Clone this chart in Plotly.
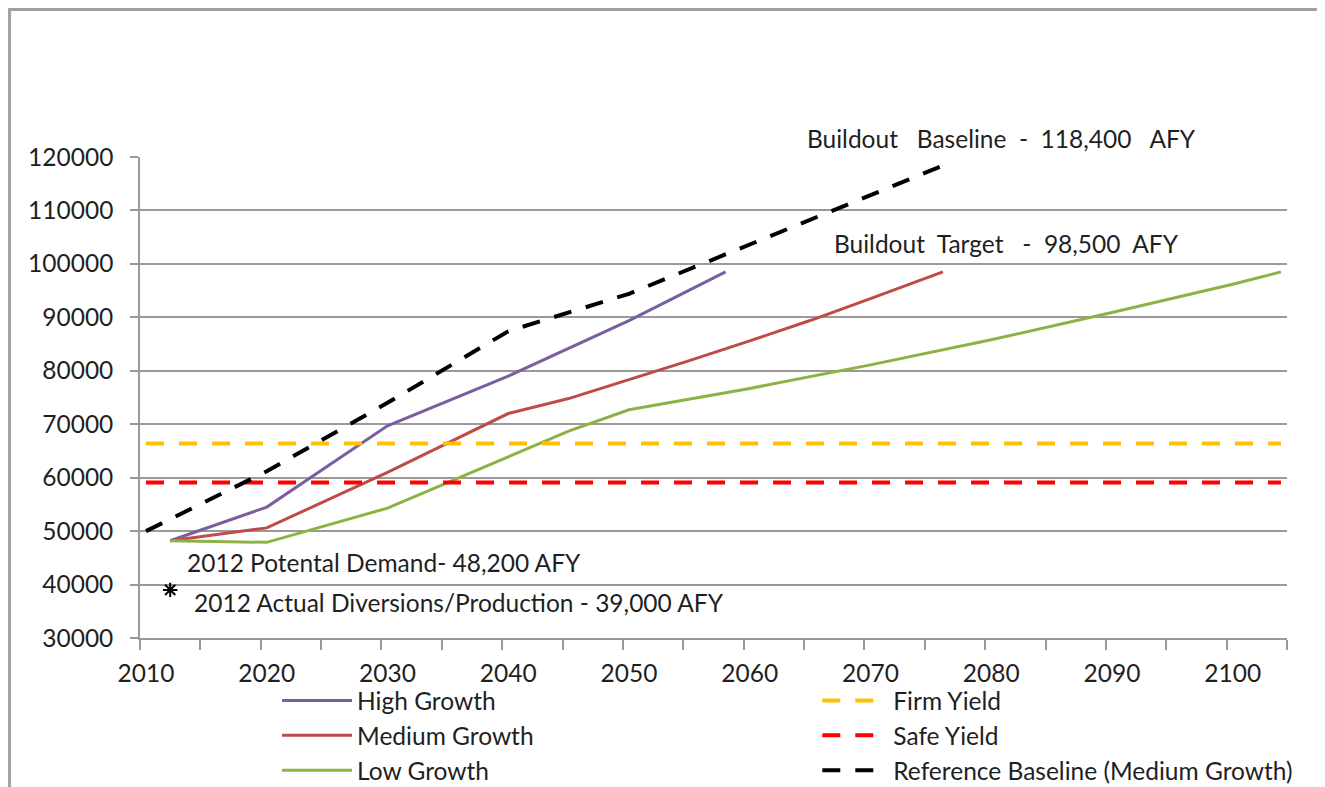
import plotly.graph_objects as go

# ---- data ----
high_years = [2012, 2020, 2030, 2040, 2050, 2058]
high_vals = [48200, 54500, 69700, 79000, 89400, 98500]

med_years = [2012, 2020, 2030, 2040, 2045, 2050, 2055, 2060, 2065, 2070, 2076]
med_vals = [48200, 50600, 61000, 72000, 74800, 78300, 81900, 85600, 89400, 93500, 98500]

low_years = [2012, 2020, 2030, 2040, 2045, 2050, 2060, 2070, 2080, 2090, 2100, 2104]
low_vals = [48200, 47900, 54300, 63800, 68700, 72700, 76700, 81100, 85800, 90900, 96200, 98500]

ref_years = [2010, 2020, 2030, 2040, 2050, 2060, 2070, 2076]
ref_vals = [50000, 61200, 74000, 87400, 94400, 103600, 112800, 118400]

yield_years = [2010, 2104]
firm_yield = [66400, 66400]
safe_yield = [59100, 59100]

actual_year = [2012]
actual_val = [39000]

x_tick_vals = list(range(2010, 2101, 10))
x_tick_text = [str(v) for v in x_tick_vals]

FONT = "Lato"
TXT = "#1f1f1f"
GRID = "#9a9a9a"
DASH = "18px,15px"
FS = 24.5
NB = "\u00a0"

fig = go.Figure()

fig.add_trace(go.Scatter(x=high_years, y=high_vals, mode="lines", name="High Growth",
                         line=dict(color="#7A5FA0", width=3), legend="legend"))
fig.add_trace(go.Scatter(x=med_years, y=med_vals, mode="lines", name="Medium Growth",
                         line=dict(color="#BE4B48", width=3), legend="legend"))
fig.add_trace(go.Scatter(x=low_years, y=low_vals, mode="lines", name="Low Growth",
                         line=dict(color="#8DB244", width=3), legend="legend"))
fig.add_trace(go.Scatter(x=yield_years, y=firm_yield, mode="lines", name="Firm Yield",
                         line=dict(color="#FFC000", width=4, dash=DASH), legend="legend2"))
fig.add_trace(go.Scatter(x=yield_years, y=safe_yield, mode="lines", name="Safe Yield",
                         line=dict(color="#FF0000", width=4, dash=DASH), legend="legend2"))
fig.add_trace(go.Scatter(x=ref_years, y=ref_vals, mode="lines", name="Reference Baseline (Medium Growth)",
                         line=dict(color="#000000", width=4, dash=DASH), legend="legend2"))
fig.add_trace(go.Scatter(x=actual_year, y=actual_val, mode="markers", showlegend=False,
                         marker=dict(symbol="asterisk-open", size=12, color="#000000",
                                     line=dict(color="#000000", width=2))))

annotations = [
    dict(x=0.5795, y=1.0395,
         text="Buildout" + NB * 2 + " Baseline" + NB + " -" + NB + " 118,400" + NB * 2 + " AFY"),
    dict(x=0.6031, y=0.8212,
         text="Buildout" + NB + " Target" + NB * 2 + " -" + NB + " 98,500" + NB + " AFY"),
    dict(x=0.0392, y=0.158, text="2012 Potental Demand- 48,200 AFY"),
    dict(x=0.0453, y=0.0728, text="2012 Actual Diversions/Production - 39,000 AFY"),
]
for a in annotations:
    fig.add_annotation(xref="paper", yref="paper", xanchor="left", yanchor="middle",
                       showarrow=False, font=dict(family=FONT, size=FS, color=TXT), **a)

# outer chart frame
fig.add_shape(type="rect", xref="paper", yref="paper",
              x0=-0.1137, x1=1.0305, y0=-0.40, y1=1.3067,
              line=dict(color="#a0a0a0", width=3), fillcolor="rgba(0,0,0,0)", layer="below")

legend_common = dict(orientation="v", font=dict(family=FONT, size=FS, color=TXT),
                     bgcolor="rgba(0,0,0,0)", xanchor="left", yanchor="top")

fig.update_layout(
    width=1325, height=787,
    margin=dict(l=132, r=45.5, t=149, b=157, autoexpand=False),
    paper_bgcolor="white", plot_bgcolor="white",
    font=dict(family=FONT, size=FS, color=TXT),
    showlegend=True,
    legend=dict(x=0.1195, y=-0.0833, itemwidth=70, **legend_common),
    legend2=dict(x=0.5905, y=-0.0833, itemwidth=66, **legend_common),
    xaxis=dict(range=[2009.5, 2104.5], tickvals=x_tick_vals, ticktext=x_tick_text,
               ticks="", showgrid=False, showline=True, linecolor=GRID, linewidth=1.5,
               ticklabelstandoff=13, tickfont=dict(family=FONT, size=FS, color=TXT),
               minor=dict(tick0=2009.5, dtick=5, ticks="outside", ticklen=10,
                          tickcolor=GRID, tickwidth=1.5, showgrid=False),
               zeroline=False),
    yaxis=dict(range=[30000, 120000], dtick=10000, tickformat="d",
               showgrid=True, gridcolor=GRID, gridwidth=1.5,
               showline=True, linecolor=GRID, linewidth=1.5,
               ticks="outside", ticklen=8, tickcolor=GRID, tickwidth=1.5,
               ticklabelstandoff=12, tickfont=dict(family=FONT, size=FS, color=TXT),
               zeroline=False),
)

fig.write_html("out.html")
